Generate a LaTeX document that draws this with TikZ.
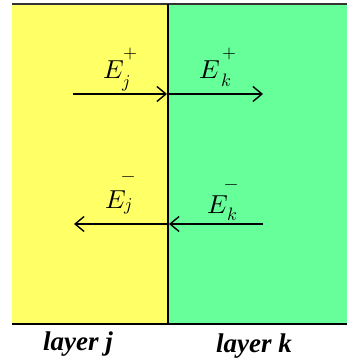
\documentclass[tikz,border=0pt]{standalone}
\usepackage{fontspec}
\setmainfont{Liberation Serif}
\usepackage{unicode-math}
\setmathfont{Latin Modern Math}
\usetikzlibrary{arrows.meta}
\definecolor{layeryellow}{RGB}{255,255,102}
\definecolor{layergreen}{RGB}{102,255,153}
\tikzset{
  wave/.style={line width=1.5pt,-{Straight Barb[length=9pt,width=15pt,line width=1.4pt]}},
  bigE/.style={inner sep=0pt,font=\fontsize{26}{30}\selectfont},
  script/.style={inner sep=0pt,font=\fontsize{18}{20}\selectfont},
  layerlabel/.style={inner sep=0pt,anchor=base,font=\fontsize{27}{30}\selectfont\bfseries\itshape}
}
\begin{document}
\begin{tikzpicture}[x=1pt,y=-1pt]
\useasboundingbox (0,0) rectangle (347,363);
\fill[layeryellow] (12,4) rectangle (168,324);
\fill[layergreen] (168,4) rectangle (347,324);
\draw[line width=1.1pt,black!80] (12,4) -- (347,4);
\draw[line width=1.2pt] (12,324) -- (347,324);
\draw[line width=1.2pt] (168,4) -- (168,324);
% arrow end points
\coordinate (a1) at (73,94);
\coordinate (a2) at (167,94);
\coordinate (a3) at (168,94);
\coordinate (a4) at (263,94);
\coordinate (b1) at (167,224);
\coordinate (b2) at (74,224);
\coordinate (b3) at (263,224);
\coordinate (b4) at (169,224);
\draw[wave] (a1) -- (a2);
\draw[wave] (a3) -- (a4);
\draw[wave] (b1) -- (b2);
\draw[wave] (b3) -- (b4);
% labels
\node[bigE] (Ejp) at (114,70) {$E$};
\node[script] (Ejpsup) at (130,54) {$+$};
\node[script] (Ejpsub) at (126,83) {$j$};
\node[bigE] (Ekp) at (210,70) {$E$};
\node[script] (Ekpsup) at (229,54) {$+$};
\node[script] (Ekpsub) at (226,80) {$k$};
\node[bigE] (Ejm) at (116,200) {$E$};
\node[script] (Ejmsup) at (128,179) {$-$};
\node[script] (Ejmsub) at (128,206) {$j$};
\node[bigE] (Ekm) at (218,205) {$E$};
\node[script] (Ekmsup) at (231,187) {$-$};
\node[script] (Ekmsub) at (232,214) {$k$};
\node[layerlabel] (lj) at (78,350) {layer j};
\node[layerlabel] (lk) at (254,352) {layer k};
\end{tikzpicture}
\end{document}
